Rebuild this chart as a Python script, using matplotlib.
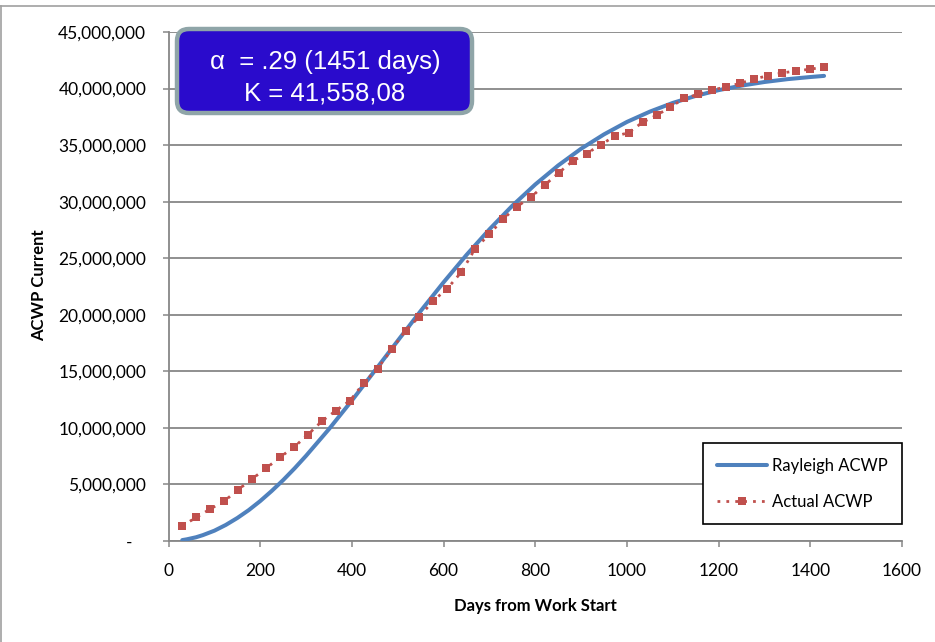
import numpy as np
import matplotlib
matplotlib.use("Agg")
import matplotlib.pyplot as plt
from matplotlib.patches import FancyBboxPatch
from matplotlib.lines import Line2D
from matplotlib.transforms import IdentityTransform
from matplotlib.ticker import FuncFormatter

# Rayleigh fitted curve (days, ACWP in millions)
ray_days = [30, 40, 60, 75, 100, 125, 150, 175, 200, 225, 250, 275, 300, 350, 400,
            450, 500, 550, 600, 650, 700, 750, 800, 850, 900, 950, 1000, 1050,
            1100, 1150, 1200, 1250, 1300, 1350, 1400, 1430]
ray_acwp = [0.08, 0.15, 0.33, 0.52, 0.91, 1.42, 2.03, 2.73, 3.53, 4.42, 5.38, 6.42,
            7.53, 9.89, 12.42, 15.05, 17.70, 20.33, 22.87, 25.29, 27.55, 29.64,
            31.52, 33.20, 34.68, 35.95, 37.05, 37.96, 38.73, 39.35, 39.86, 40.26,
            40.58, 40.83, 41.02, 41.12]

# actual monthly ACWP (millions)
act_days = [30, 61, 91, 122, 152, 183, 213, 243, 274, 304, 335, 365, 396, 426,
            456, 487, 517, 547, 578, 608, 639, 669, 700, 730, 760, 791, 821, 851,
            882, 912, 943, 973, 1004, 1034, 1065, 1095, 1125, 1156, 1186, 1217,
            1247, 1278, 1308, 1339, 1369, 1400, 1430]
act_acwp = [1.35, 2.09, 2.83, 3.54, 4.54, 5.51, 6.43, 7.40, 8.31, 9.40, 10.61,
            11.52, 12.41, 13.97, 15.24, 16.95, 18.60, 19.83, 21.25, 22.31, 23.78,
            25.85, 27.12, 28.47, 29.56, 30.42, 31.48, 32.54, 33.60, 34.25, 35.04,
            35.78, 36.10, 37.02, 37.64, 38.37, 39.14, 39.49, 39.88, 40.14, 40.47,
            40.85, 41.14, 41.38, 41.56, 41.71, 41.91]

x_ticks = [0, 200, 400, 600, 800, 1000, 1200, 1400, 1600]
y_ticks = [0, 5, 10, 15, 20, 25, 30, 35, 40, 45]

blue = "#4F81BD"
red = "#C0504D"
grid_c = "#878787"

plt.rcParams['font.family'] = ['Lato', 'DejaVu Sans']

fig = plt.figure(figsize=(9.35, 6.42), dpi=100)
ax = fig.add_axes([168.5 / 935, 1 - 541 / 642, 733.5 / 935, 509 / 642])

ax.plot(np.array(ray_days), np.array(ray_acwp) * 1e6, color=blue, lw=2.9,
        solid_capstyle='round', solid_joinstyle='round', label='Rayleigh ACWP',
        zorder=3)
ax.plot(np.array(act_days), np.array(act_acwp) * 1e6, color=red, lw=2.0,
        linestyle=(0, (1, 2.2)), marker='s', markersize=6,
        markeredgewidth=0, label='Actual ACWP', zorder=4)

ax.set_xlim(0, 1600)
ax.set_ylim(0, 45e6)
ax.set_xticks(x_ticks)
ax.set_yticks([v * 1e6 for v in y_ticks])


def yfmt(v, pos):
    if v == 0:
        return "-   "
    return f"{int(round(v)):,}"


ax.yaxis.set_major_formatter(FuncFormatter(yfmt))
ax.grid(axis='y', color=grid_c, lw=1.3)
ax.set_axisbelow(True)
for s in ['top', 'right']:
    ax.spines[s].set_visible(False)
for s in ['left', 'bottom']:
    ax.spines[s].set_color(grid_c)
    ax.spines[s].set_linewidth(1.3)
ax.tick_params(axis='both', direction='out', length=4, width=1.1, color=grid_c,
               labelsize=12.5, labelcolor='black')
ax.tick_params(axis='y', pad=12)
ax.tick_params(axis='x', pad=12)

ax.set_xlabel('Days from Work Start', fontsize=12, fontweight='bold')
ax.set_ylabel('ACWP Current', fontsize=12, fontweight='bold')
ax.xaxis.set_label_coords(0.5, -0.112)
ax.yaxis.set_label_coords(-0.165, 0.503)

leg = ax.legend(loc='lower right', bbox_to_anchor=(1.0, 0.034), borderaxespad=0,
                fancybox=False, edgecolor='black', framealpha=1, fontsize=12,
                handlelength=3.0, handletextpad=0.3, labelspacing=1.2,
                borderpad=0.85)
leg.get_frame().set_linewidth(1.2)

# annotation box
box = FancyBboxPatch((177, 642 - 113), 295, 84,
                     boxstyle="round,pad=0,rounding_size=12",
                     transform=IdentityTransform(), facecolor="#2A0BCC",
                     edgecolor="#8FA5A8", linewidth=3.2, zorder=10)
fig.patches.append(box)
fig.text(325 / 935, 1 - 62 / 642, "α  = .29 (1451 days)", color='white',
         fontsize=18.5, ha='center', va='center',
         family=['Liberation Sans', 'DejaVu Sans'], zorder=11)
fig.text(325 / 935, 1 - 94 / 642, "K = 41,558,08", color='white',
         fontsize=18.5, ha='center', va='center',
         family=['Liberation Sans', 'DejaVu Sans'], zorder=11)

# outer chart-area frame
fig.add_artist(Line2D([0, 1], [1 - 6 / 642] * 2, color='#A0A0A0', lw=1.2,
                      transform=fig.transFigure))
fig.add_artist(Line2D([1 / 935] * 2, [0, 1 - 6 / 642], color='#A0A0A0', lw=1.2,
                      transform=fig.transFigure))

fig.savefig('out.png', dpi=100)
